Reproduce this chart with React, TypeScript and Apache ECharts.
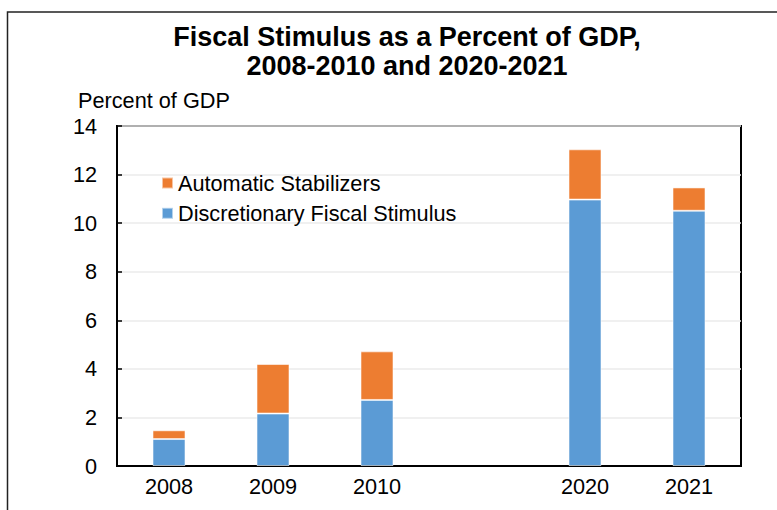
import React, { useEffect, useRef } from "react";
import * as echarts from "echarts";

const categories = ["2008", "2009", "2010", "", "2020", "2021"];
const discretionary = [1.11, 2.16, 2.72, null, 10.97, 10.51];
const automatic = [0.36, 2.04, 2.0, null, 2.07, 0.96];
const yTicks = { min: 0, max: 14, interval: 2 };
const titleLines = ["Fiscal Stimulus as a Percent of GDP,", "2008-2010 and 2020-2021"];
const yAxisTitle = "Percent of GDP";
const seriesNames = ["Discretionary Fiscal Stimulus", "Automatic Stabilizers"];

const FONT = "'Liberation Sans', Arial, Helvetica, sans-serif";
const FS = 21.7;

export default function App() {
  const ref = useRef<HTMLDivElement>(null);
  useEffect(() => {
    if (!ref.current) return;
    const chart = echarts.init(ref.current, null, { renderer: "svg" });
    chart.setOption({
      animation: false,
      backgroundColor: "#fff",
      textStyle: { fontFamily: FONT },
      graphic: [
        {
          type: "polyline",
          shape: { points: [[7.5, 510], [7.5, 12], [777, 12]] },
          style: { stroke: "#222", lineWidth: 1.5, fill: "none" },
          silent: true,
        },
        {
          type: "text",
          x: 407,
          y: 37,
          style: {
            text: titleLines[0],
            font: `bold 27px ${FONT}`,
            fill: "#000",
            textAlign: "center",
            textVerticalAlign: "middle",
          },
        },
        {
          type: "text",
          x: 407,
          y: 66,
          style: {
            text: titleLines[1],
            font: `bold 27px ${FONT}`,
            fill: "#000",
            textAlign: "center",
            textVerticalAlign: "middle",
          },
        },
        {
          type: "text",
          x: 78,
          y: 100,
          style: {
            text: yAxisTitle,
            font: `${FS}px ${FONT}`,
            fill: "#000",
            textAlign: "left",
            textVerticalAlign: "middle",
          },
        },
      ],
      legend: {
        data: [seriesNames[1], seriesNames[0]],
        orient: "vertical",
        left: 161,
        top: 172,
        padding: 0,
        itemWidth: 11,
        itemHeight: 11,
        itemGap: 8.3,
        icon: "rect",
        textStyle: { fontSize: FS, color: "#000", fontFamily: FONT },
        selectedMode: false,
      },
      grid: {
        left: 117,
        right: 36,
        top: 126,
        bottom: 44,
        show: true,
        borderColor: "#000",
        borderWidth: 2,
        backgroundColor: "transparent",
      },
      xAxis: {
        type: "category",
        data: categories,
        axisLine: { lineStyle: { color: "#000", width: 2 } },
        axisTick: { inside: true, length: 5, lineStyle: { color: "#000", width: 1.5 } },
        axisLabel: { fontSize: FS, color: "#000", margin: 9, fontFamily: FONT },
        splitLine: { show: false },
      },
      yAxis: {
        type: "value",
        min: yTicks.min,
        max: yTicks.max,
        interval: yTicks.interval,
        axisLine: { show: true, lineStyle: { color: "#000", width: 2 } },
        axisTick: { show: true, inside: true, length: 5, lineStyle: { color: "#000", width: 1.5 } },
        axisLabel: { fontSize: FS, color: "#000", margin: 20, fontFamily: FONT },
        splitLine: { lineStyle: { color: "#ebebeb", width: 1.5 } },
      },
      series: [
        {
          name: seriesNames[0],
          type: "bar",
          stack: "total",
          data: discretionary,
          barWidth: 33,
          itemStyle: { color: "#5B9BD5", borderColor: "rgba(255,255,255,0.55)", borderWidth: 1 },
        },
        {
          name: seriesNames[1],
          type: "bar",
          stack: "total",
          data: automatic,
          barWidth: 33,
          itemStyle: { color: "#ED7D31", borderColor: "rgba(255,255,255,0.55)", borderWidth: 1 },
        },
      ],
    });
    return () => chart.dispose();
  }, []);
  return (
    <div
      ref={ref}
      style={{ position: "fixed", left: 0, top: 0, width: 777, height: 510 }}
    />
  );
}
